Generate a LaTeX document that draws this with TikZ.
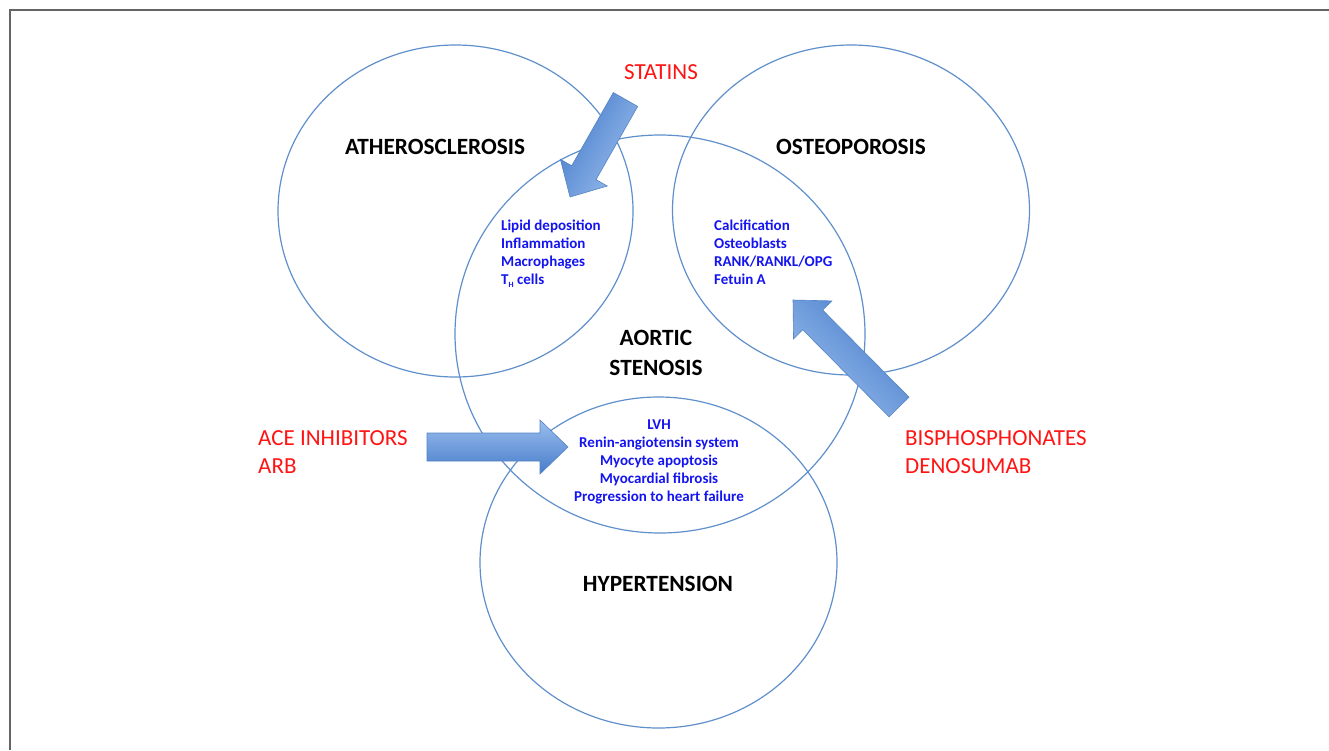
\documentclass[tikz,border=0pt]{standalone}
\usepackage{fontspec}
\setmainfont{Carlito}
\usetikzlibrary{shapes.geometric,calc}
\definecolor{ringblue}{RGB}{96,144,204}
\definecolor{txtblue}{RGB}{20,20,240}
\definecolor{txtred}{RGB}{255,20,20}
\definecolor{arrlight}{RGB}{155,190,238}
\definecolor{arrdark}{RGB}{70,124,202}
\definecolor{arredge}{RGB}{84,132,196}
\definecolor{framegray}{RGB}{100,100,100}
% #1 options, #2 tail coordinate, #3 tip coordinate
\newcommand{\blockarrow}[3]{%
  \coordinate (#3hb) at ($(#3)!28pt!(#2)$);
  \path[#1] ($(#2)!14pt!90:(#3)$) -- ($(#3hb)!14pt!90:(#3)$) -- ($(#3hb)!27pt!90:(#3)$)
    -- (#3) -- ($(#3hb)!27pt!-90:(#3)$) -- ($(#3hb)!14pt!-90:(#3)$)
    -- ($(#2)!14pt!-90:(#3)$) -- cycle;}
\begin{document}
\begin{tikzpicture}[x=1pt,y=-1pt,
  ring/.style={draw=ringblue, line width=1.2pt, ellipse, inner sep=0pt},
  biglabel/.style={font=\fontsize{23.3}{30}\selectfont\bfseries, inner sep=0pt},
  lst/.style={text=txtblue, font=\fontsize{15}{18}\selectfont\bfseries, inner sep=0pt},
  drug/.style={text=txtred, font=\fontsize{23}{28}\selectfont, inner sep=0pt, align=left},
  blockarr/.style={draw=arredge, line width=0.6pt, top color=arrlight, bottom color=arrdark}]
\useasboundingbox (0,0) rectangle (1329,750);
\fill[white] (0,0) rectangle (1329,750);
\draw[framegray, line width=1.5pt] (10,750) -- (10,10) -- (1329,10);

\node[ring, minimum width=355pt, minimum height=332pt] (ath) at (455.5,211) {};
\node[ring, minimum width=357pt, minimum height=330pt] (ost) at (851,210) {};
\node[ring, minimum width=410pt, minimum height=398pt] (aor) at (660,334) {};
\node[ring, minimum width=357pt, minimum height=331pt] (hyp) at (658.5,562.5) {};

\node[biglabel] (athl) at (435,147) {ATHEROSCLEROSIS};
\node[biglabel] (ostl) at (851,147) {OSTEOPOROSIS};
\node[biglabel, align=center] (aorl) at (656,353) {AORTIC\\STENOSIS};
\node[biglabel] (hypl) at (658,584) {HYPERTENSION};

\node[lst, align=left, anchor=north west] (athlist) at (501,220)
  {Lipid deposition\\Inflammation\\Macrophages\\T\raisebox{-0.35ex}{\fontsize{8}{8}\selectfont H} cells};
\node[lst, align=left, anchor=north west] (ostlist) at (714,220)
  {Calcification\\Osteoblasts\\RANK/RANKL/OPG\\Fetuin A};
\node[lst, align=center, anchor=north] (hyplist) at (659,420)
  {LVH\\Renin-angiotensin system\\Myocyte apoptosis\\Myocardial fibrosis\\Progression to heart failure};

\node[drug] (statins) at (661,72) {STATINS};
\node[drug, anchor=north west] (ace) at (258,430.6) {ACE INHIBITORS\\ARB};
\node[drug, anchor=north west] (bis) at (905,430.6) {BISPHOSPHONATES\\DENOSUMAB};

\coordinate (statT) at (625.5,99.5);
\coordinate (statH) at (570,197);
\coordinate (aceT) at (427,447);
\coordinate (aceH) at (568,447);
\coordinate (bisT) at (899,407);
\coordinate (bisH) at (793,300);

\blockarrow{blockarr, shading angle=240}{statT}{statH}
\blockarrow{blockarr, shading angle=0}{aceT}{aceH}
\blockarrow{blockarr, shading angle=135}{bisT}{bisH}
\end{tikzpicture}
\end{document}
